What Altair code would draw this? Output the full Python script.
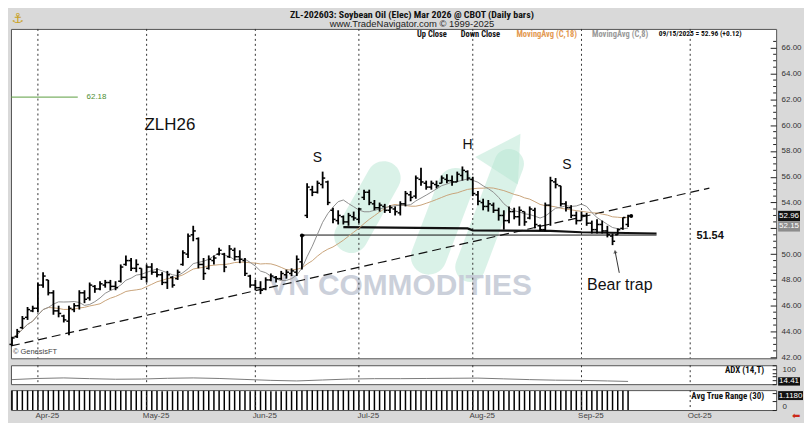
import altair as alt
import pandas as pd

# ---------------- data ----------------
highs = [43.6, 44.2, 45.2, 45.9, 46.0, 47.8, 48.6, 48.0, 47.2, 46.0,
         45.3, 46.0, 46.2, 47.2, 47.2, 47.8, 47.6, 47.9, 48.0, 48.0,
         47.9, 49.2, 49.9, 49.7, 49.6, 48.9, 49.2, 49.3, 48.9, 48.6,
         48.7, 48.3, 48.8, 50.3, 51.6, 52.2, 51.3, 49.7, 49.9, 49.9,
         50.5, 50.1, 50.7, 50.5, 50.3, 49.7, 48.4, 48.0, 47.9, 48.2,
         48.5, 48.3, 48.7, 48.8, 48.9, 49.9, 51.5, 55.5, 55.3, 55.7,
         56.4, 55.7, 53.6, 53.4, 53.0, 53.2, 53.3, 53.6, 55.0, 55.0,
         54.2, 54.0, 53.9, 53.8, 53.7, 54.1, 54.9, 54.9, 56.1, 56.7,
         55.7, 55.7, 55.7, 56.1, 56.2, 56.1, 56.4, 56.8, 56.5, 56.0,
         54.9, 54.3, 54.2, 54.0, 53.6, 53.4, 53.7, 53.6, 53.7, 53.3,
         53.7, 53.6, 52.3, 54.0, 56.0, 55.9, 55.3, 54.1, 53.8, 53.3,
         53.3, 53.2, 52.6, 52.7, 52.6, 52.2, 51.6, 52.0, 52.85, 53.05]
lows = [42.9, 43.5, 44.2, 44.9, 45.5, 45.5, 47.4, 46.8, 45.3, 45.1,
        44.7, 43.7, 45.5, 45.7, 46.2, 46.4, 47.0, 47.2, 47.4, 47.2,
        47.2, 47.8, 49.1, 48.7, 48.6, 48.0, 47.8, 48.4, 48.2, 47.6,
        47.3, 47.4, 48.0, 49.1, 49.7, 51.0, 48.9, 48.0, 48.8, 49.2,
        49.9, 48.6, 49.7, 49.5, 49.3, 48.3, 47.4, 47.2, 46.9, 47.2,
        47.9, 47.8, 48.0, 48.1, 48.3, 48.3, 48.8, 52.8, 54.5, 54.7,
        55.1, 53.8, 52.4, 52.3, 52.3, 52.2, 52.6, 52.4, 54.2, 53.8,
        53.4, 53.3, 53.2, 53.2, 53.0, 53.0, 53.7, 54.1, 54.3, 55.3,
        55.0, 55.0, 55.1, 55.5, 55.5, 55.3, 55.6, 55.7, 55.7, 54.5,
        53.8, 53.4, 53.3, 53.2, 52.6, 51.9, 52.4, 52.7, 52.2, 52.2,
        52.7, 52.0, 51.8, 51.8, 52.2, 55.1, 53.7, 53.3, 52.8, 52.3,
        52.6, 52.2, 51.6, 51.6, 51.6, 51.3, 50.7, 51.5, 51.9, 52.1]
opens = [43.0, 43.6, 44.3, 45.1, 45.6, 45.8, 47.6, 48.0, 47.0, 45.6,
         45.2, 44.8, 45.7, 46.0, 47.0, 46.6, 47.5, 47.3, 47.6, 47.8,
         47.5, 47.9, 49.2, 49.5, 48.9, 48.9, 48.2, 49.0, 48.6, 48.4,
         47.8, 48.2, 48.1, 49.2, 50.0, 51.5, 51.2, 49.2, 48.9, 49.5,
         50.0, 50.0, 49.8, 50.3, 49.8, 49.5, 48.3, 47.6, 47.4, 47.3,
         48.0, 48.2, 48.1, 48.4, 48.5, 48.6, 49.4, 53.0, 55.0, 54.8,
         55.4, 55.6, 53.4, 52.6, 52.9, 52.5, 52.9, 52.7, 54.4, 54.8,
         53.9, 53.6, 53.7, 53.4, 53.5, 53.2, 53.9, 54.6, 54.5, 55.8,
         55.5, 55.2, 55.4, 55.5, 55.8, 55.7, 55.6, 56.1, 56.4, 55.8,
         54.6, 54.0, 53.7, 53.8, 53.4, 53.0, 52.6, 53.3, 52.9, 53.3,
         52.8, 53.4, 52.2, 51.9, 53.8, 55.6, 55.3, 53.9, 53.6, 53.0,
         52.6, 53.0, 52.4, 51.9, 52.3, 51.8, 51.4, 51.5, 52.0, 52.3]
closes = [43.5, 44.0, 45.0, 45.7, 45.8, 47.6, 48.3, 47.0, 45.6, 45.4,
          44.9, 45.8, 46.0, 47.0, 46.5, 47.6, 47.3, 47.7, 47.8, 47.5,
          47.4, 49.0, 49.5, 48.9, 49.2, 48.2, 49.0, 48.6, 48.4, 47.8,
          48.4, 47.6, 48.6, 50.1, 51.4, 51.8, 49.2, 48.5, 49.6, 49.7,
          50.3, 49.0, 50.4, 49.8, 49.6, 48.5, 47.6, 47.4, 47.2, 48.0,
          48.3, 48.1, 48.5, 48.6, 48.7, 49.6, 51.45, 55.2, 54.8, 55.5,
          55.9, 54.0, 52.7, 53.0, 52.5, 53.0, 52.8, 53.5, 54.8, 54.0,
          53.6, 53.8, 53.4, 53.6, 53.3, 53.9, 54.7, 54.4, 55.9, 55.6,
          55.2, 55.5, 55.3, 55.9, 55.7, 55.6, 56.2, 56.5, 55.9, 54.7,
          54.1, 53.7, 53.9, 53.4, 53.0, 52.6, 53.3, 52.9, 53.4, 52.5,
          53.5, 52.3, 51.9, 53.8, 55.7, 55.4, 53.9, 53.6, 53.0, 52.6,
          53.0, 52.4, 51.9, 52.3, 51.8, 51.5, 51.0, 51.9, 52.84, 52.96]

atr_values = [1.12, 1.12, 1.13, 1.13, 1.13, 1.14, 1.14, 1.14, 1.15, 1.15,
              1.15, 1.15, 1.15, 1.14, 1.14, 1.14, 1.13, 1.13, 1.13, 1.12,
              1.12, 1.12, 1.12, 1.12, 1.11, 1.11, 1.11, 1.11, 1.11, 1.10,
              1.10, 1.10, 1.10, 1.11, 1.11, 1.12, 1.12, 1.12, 1.12, 1.12,
              1.12, 1.12, 1.11, 1.11, 1.11, 1.11, 1.10, 1.10, 1.10, 1.10,
              1.10, 1.10, 1.10, 1.10, 1.10, 1.11, 1.12, 1.14, 1.14, 1.14,
              1.15, 1.15, 1.15, 1.15, 1.15, 1.14, 1.14, 1.14, 1.14, 1.14,
              1.13, 1.13, 1.13, 1.13, 1.13, 1.13, 1.13, 1.13, 1.14, 1.14,
              1.13, 1.13, 1.13, 1.13, 1.12, 1.12, 1.12, 1.12, 1.12, 1.12,
              1.12, 1.12, 1.12, 1.11, 1.11, 1.11, 1.11, 1.11, 1.11, 1.11,
              1.11, 1.11, 1.11, 1.11, 1.12, 1.12, 1.12, 1.12, 1.12, 1.12,
              1.12, 1.12, 1.12, 1.12, 1.12, 1.12, 1.12, 1.12, 1.12, 1.118]

adx_idx = [0, 5, 10, 15, 20, 25, 30, 35, 40, 45, 50, 55, 60, 65, 70, 75, 80, 85, 90, 95, 100, 105, 110, 115, 119]
adx_val = [24, 30, 33, 29, 26, 27, 31, 33, 30, 25, 20, 17, 22, 27, 29, 29, 30, 31, 32, 28, 24, 21, 20, 17, 14.41]

holidays = ["2025-04-18", "2025-05-26", "2025-06-19", "2025-07-04", "2025-09-01"]
ma8_tag = 52.15
neck_level = 51.54
target_level = 62.18

# annotation geometry (bar index, price)
trend_idx = [-0.2, 134.7]
trend_p = [42.88, 55.12]
neck_thin_idx = [56, 124.5]
neck_thin_p = [51.48, 51.48]
neck_thick_idx = [64, 88, 89, 104, 110, 124.5]
neck_thick_p = [52.1, 52.0, 51.85, 51.8, 51.7, 51.6]
pattern_idx = [30.5, 59.0, 88.0, 107.2]
pattern_p = [59.98, 57.43, 58.5, 56.89]
pattern_txt = ["ZLH26", "S", "H", "S"]
pattern_fs = [17, 14, 14, 14]

# ---------------- preparation ----------------
FONT = "Liberation Sans, Arial, sans-serif"
NARROW = "Liberation Sans Narrow, Roboto Condensed, DejaVu Sans Condensed, Roboto, sans-serif"

sessions = [d for d in pd.bdate_range("2025-03-25", "2025-10-31")
            if d.strftime("%Y-%m-%d") not in holidays]
n = len(closes)
bars = pd.DataFrame({"idx": list(range(n)), "o": opens, "h": highs, "l": lows, "c": closes})

month_idx, month_lab = [], []
prev = None
for i, d in enumerate(sessions):
    if d.month != prev:
        if prev is not None:
            month_idx.append(i)
            month_lab.append(d.strftime("%b-%y"))
        prev = d.month
months = pd.DataFrame({"idx": month_idx, "label": month_lab})

W = 769
H_MAIN, H_ADX, H_ATR = 331, 19, 20
xs = alt.Scale(domain=[-0.2, 147.6], nice=False, zero=False)
ys = alt.Scale(domain=[41.923, 67.466], nice=False, zero=False)

y_axis = alt.Axis(orient="right", values=list(range(42, 67, 2)),
                  labelExpr="datum.value == 52 ? '' : format(datum.value, '.2f')", offset=-6,
                  tickSize=6, tickColor="#222", domain=False, grid=False, labelPadding=5,
                  labelFont=FONT, labelFontSize=8, labelColor="#333", title=None)


def X(field="idx"):
    return alt.X(f"{field}:Q", scale=xs, axis=None)


def Y(field):
    return alt.Y(f"{field}:Q", scale=ys, axis=y_axis)


dummy = pd.DataFrame({"a": [0]})

# watermark logo
logo = pd.DataFrame({"x1": [65.5, 80.5, 88.5], "y1": [51.4, 49.8, 49.0],
                     "x2": [71.8, 85.7, 96.0], "y2": [55.9, 55.3, 57.0], "w": [34, 36, 30]})
logo_layer = alt.Chart(logo).mark_rule(strokeCap="round", color="#b5e6d2", opacity=0.5).encode(
    x=X("x1"), x2="x2:Q", y=Y("y1"), y2="y2:Q", strokeWidth=alt.StrokeWidth("w:Q", scale=None))
logo_head = alt.Chart(pd.DataFrame({"x": [95.9], "y": [57.9]})).mark_point(
    shape="triangle-up", filled=True, size=2600, angle=33, color="#b5e6d2", opacity=0.5, strokeWidth=0
).encode(x=X("x"), y=Y("y"))
wm_text = alt.Chart(pd.DataFrame({"x": [74.95], "y": [47.56]})).mark_text(
    text="VN COMMODITIES", font=FONT, fontWeight="bold", fontSize=30, color="#c6cbd7", opacity=0.9
).encode(x=X("x"), y=Y("y"))

month_rules = alt.Chart(months).mark_rule(color="#333", strokeDash=[2, 3], strokeWidth=1).encode(x=X())

trend = alt.Chart(pd.DataFrame({"idx": trend_idx, "p": trend_p})).mark_line(
    color="#111", strokeDash=[9, 5], strokeWidth=1.2).encode(x=X(), y=Y("p"))
neck_thin = alt.Chart(pd.DataFrame({"idx": neck_thin_idx, "p": neck_thin_p})).mark_line(
    color="#111", strokeWidth=1).encode(x=X(), y=Y("p"))
neck_thick = alt.Chart(pd.DataFrame({"idx": neck_thick_idx, "p": neck_thick_p})).mark_line(
    color="#111", strokeWidth=2.2).encode(x=X(), y=Y("p"))

ma_base = alt.Chart(bars).transform_window(
    ma18="mean(c)", frame=[-17, 0], sort=[alt.SortField("idx")]
).transform_window(
    ma8="mean(c)", frame=[-7, 0], sort=[alt.SortField("idx")])
ma18 = ma_base.mark_line(color="#c9a37a", strokeWidth=1).encode(x=X(), y=Y("ma18"))
ma8 = ma_base.mark_line(color="#8e8e8e", strokeWidth=1).encode(x=X(), y=Y("ma8"))

hl = alt.Chart(bars).mark_rule(color="black", strokeWidth=1.8).encode(x=X(), y=Y("l"), y2="h:Q")
otick = alt.Chart(bars).transform_calculate(xa="datum.idx - 0.5").mark_rule(
    color="black", strokeWidth=1.5).encode(x=X("xa"), x2="idx:Q", y=Y("o"))
ctick = alt.Chart(bars).transform_calculate(xb="datum.idx + 0.5").mark_rule(
    color="black", strokeWidth=1.5).encode(x=X("idx"), x2="xb:Q", y=Y("c"))
dots = alt.Chart(pd.DataFrame({"idx": [56, 119.6], "p": [closes[56], closes[-1]]})).mark_circle(
    size=16, color="black", opacity=1).encode(x=X(), y=Y("p"))

patt = alt.Chart(pd.DataFrame({"idx": pattern_idx, "p": pattern_p, "t": pattern_txt, "fs": pattern_fs})
                 ).mark_text(font=FONT, color="#111").encode(
    x=X(), y=Y("p"), text="t:N", size=alt.Size("fs:Q", scale=None))
bear = alt.Chart(pd.DataFrame({"idx": [117.4], "p": [47.6]})).mark_text(
    text="Bear trap", font=FONT, fontSize=16, color="#111").encode(x=X(), y=Y("p"))
bear_arrow = alt.Chart(pd.DataFrame({"idx": [117.3, 116.5], "p": [48.55, 50.2]})).mark_line(
    color="#333", strokeWidth=1).encode(x=X(), y=Y("p"))
bear_head = alt.Chart(pd.DataFrame({"idx": [116.5], "p": [50.2]})).mark_point(
    shape="triangle-up", filled=True, size=18, angle=350, color="#333").encode(x=X(), y=Y("p"))
neck_lab = alt.Chart(pd.DataFrame({"idx": [132.2], "p": [neck_level], "t": [f"{neck_level:.2f}"]})).mark_text(
    font=FONT, fontWeight="bold", fontSize=11, align="left", dy=1.5, color="#111").encode(
    x=X(), y=Y("p"), text="t:N")
tgt_line = alt.Chart(pd.DataFrame({"idx": [-0.2, 12.7], "p": [target_level, target_level]})).mark_line(
    color="#5c9e40", strokeWidth=1).encode(x=X(), y=Y("p"))
tgt_lab = alt.Chart(pd.DataFrame({"idx": [14.4], "p": [target_level], "t": [f"{target_level:.2f}"]})).mark_text(
    font=FONT, fontSize=8, align="left", color="#4f8f35").encode(x=X(), y=Y("p"), text="t:N")

genesis = alt.Chart(dummy).mark_text(text="© GenesisFT", font=FONT, fontSize=7.5, color="#444",
                                     align="left").encode(x=alt.value(2), y=alt.value(H_MAIN - 6))

title1 = alt.Chart(dummy).mark_text(
    text="ZL-202603:  Soybean Oil (Elec) Mar 2026 @ CBOT  (Daily bars)", font=NARROW, fontWeight="bold",
    fontSize=10, color="#111").encode(x=alt.value(403), y=alt.value(-14))
title2 = alt.Chart(dummy).mark_text(
    text="www.TradeNavigator.com © 1999-2025", font=FONT, fontSize=9.5, color="#222"
).encode(x=alt.value(403), y=alt.value(-4.5))
logo_icon = alt.Chart(dummy).mark_text(text="⚓", font="DejaVu Sans", fontSize=14, color="#c9a227").encode(
    x=alt.value(7), y=alt.value(-10))

last_date = sessions[n - 1].strftime("%m/%d/%Y")
legend_items = [("Up Close", 408, "#111", 8.5), ("Down Close", 452, "#111", 8.5),
                ("MovingAvg (C,18)", 508, "#e39a52", 8.5), ("MovingAvg (C,8)", 584, "#9a9a9a", 8.5),
                (f"{last_date} = {closes[-1]:.2f} ({closes[-1] - closes[-2]:+.2f})", 651, "#111", 7.5)]
legend_layers = [alt.Chart(dummy).mark_text(text=t, font=NARROW, fontWeight="bold", fontSize=fs,
                                            align="left", color=c).encode(x=alt.value(px), y=alt.value(5.5))
                 for t, px, c, fs in legend_items]

minor = pd.DataFrame({"v": [v / 2 for v in range(84, 134) if v % 4 != 0]})
minor_ticks = alt.Chart(minor).mark_rule(color="#222", strokeWidth=1).encode(
    x=alt.value(W - 3), x2=alt.value(W), y=Y("v"))

tags = pd.DataFrame({"p": [closes[-1], ma8_tag], "fill": ["#111", "#8c8c8c"]})
tags["lab"] = [f"{v:.2f}" for v in tags["p"]]
tag_rect = alt.Chart(tags).transform_calculate(top="datum.p + 0.4", bot="datum.p - 0.4").mark_rect().encode(
    x=alt.value(W + 2), x2=alt.value(W + 24), y=Y("top"), y2="bot:Q", color=alt.Color("fill:N", scale=None))
tag_text = alt.Chart(tags).mark_text(font=FONT, fontSize=8, color="white").encode(
    x=alt.value(W + 13), y=Y("p"), text="lab:N")

main = alt.layer(
    logo_layer, logo_head, wm_text, month_rules, trend, neck_thin, neck_thick, ma18, ma8,
    hl, otick, ctick, dots, patt, bear, bear_arrow, bear_head, neck_lab, tgt_line, tgt_lab,
    genesis, title1, title2, logo_icon, *legend_layers, minor_ticks, tag_rect, tag_text
).properties(width=W, height=H_MAIN)

# ---------------- ADX panel ----------------
adx_scale = alt.Scale(domain=[0, 100], nice=False, zero=False)
adx_axis = alt.Axis(orient="right", values=[0, 20, 40, 60, 80, 100],
                    labelExpr="datum.value == 100 ? '100' : ''", offset=-4, tickSize=4,
                    tickColor="#222", domain=False, grid=False, labelPadding=6, labelBaseline="top",
                    labelFont=FONT, labelFontSize=8, labelColor="#333", title=None)
adx_df = pd.DataFrame({"idx": adx_idx, "v": adx_val})
adx_line = alt.Chart(adx_df).mark_line(color="#7a7a7a", strokeWidth=1).encode(
    x=X(), y=alt.Y("v:Q", scale=adx_scale, axis=adx_axis))
adx_rules = alt.Chart(months).mark_rule(color="#333", strokeDash=[2, 3], strokeWidth=1).encode(x=X())
adx_lab = alt.Chart(dummy).mark_text(text="ADX (14,T)", font=NARROW, fontWeight="bold", fontSize=9,
                                     align="right", color="#111").encode(x=alt.value(757), y=alt.value(5))
adx_tag_df = pd.DataFrame({"v": [adx_val[-1]], "lab": [f"{adx_val[-1]:.2f}"]})
adx_tag_rect = alt.Chart(adx_tag_df).transform_calculate(top="datum.v + 22", bot="datum.v - 22").mark_rect(
    color="#111").encode(x=alt.value(W + 2), x2=alt.value(W + 24),
                         y=alt.Y("top:Q", scale=adx_scale, axis=adx_axis), y2="bot:Q")
adx_tag_text = alt.Chart(adx_tag_df).mark_text(font=FONT, fontSize=8, color="white").encode(
    x=alt.value(W + 13), y=alt.Y("v:Q", scale=adx_scale, axis=adx_axis), text="lab:N")
adx = alt.layer(adx_rules, adx_line, adx_lab, adx_tag_rect, adx_tag_text).properties(width=W, height=H_ADX)

# ---------------- ATR panel ----------------
label_expr = " : ".join(f"datum.value == {i} ? '{l}'" for i, l in zip(month_idx, month_lab)) + " : ''"
x_axis = alt.Axis(values=month_idx, labelExpr=label_expr, ticks=False, domain=False, grid=False,
                  labelPadding=2, labelOffset=9, labelFont=FONT, labelFontSize=8, labelColor="#444",
                  labelFlush=False, labelOverlap=False, title=None)
xs_atr = alt.X("idx:Q", scale=xs, axis=x_axis)
atr_scale = alt.Scale(domain=[0, 1.16], nice=False, zero=False)
atr_axis = alt.Axis(orient="right", values=[0, 0.5, 1.0], labelExpr="datum.value == 0 ? '0' : ''",
                    offset=-4, tickSize=4, tickColor="#222", domain=False, grid=False, labelPadding=6,
                    labelBaseline="bottom", labelFont=FONT, labelFontSize=8, labelColor="#333", title=None)
atr_df = pd.DataFrame({"idx": list(range(n)), "atr": atr_values})
atr_bars = alt.Chart(atr_df).mark_rule(color="black", strokeWidth=1.5).encode(
    x=xs_atr, y=alt.Y("atr:Q", scale=atr_scale, axis=atr_axis), y2=alt.datum(0))
atr_rules = alt.Chart(months).mark_rule(color="#333", strokeDash=[2, 3], strokeWidth=1).encode(x=xs_atr)
atr_lab = alt.Chart(dummy).mark_text(text="Avg True Range (30)", font=NARROW, fontWeight="bold", fontSize=9,
                                     align="right", color="#111").encode(x=alt.value(757), y=alt.value(6))
atr_tag_rect = alt.Chart(dummy).mark_rect(color="#111").encode(
    x=alt.value(W + 2), x2=alt.value(W + 27), y=alt.value(1), y2=alt.value(10))
atr_tag_text = alt.Chart(dummy).mark_text(text=f"{atr_values[-1]:.4f}", font=FONT, fontSize=8,
                                          color="white").encode(x=alt.value(W + 14.5), y=alt.value(5.5))
red_arrow = alt.Chart(dummy).mark_text(text="⬅", fontSize=10, color="#cc2a1a", font="DejaVu Sans").encode(
    x=alt.value(W + 20), y=alt.value(H_ATR + 6))
atr = alt.layer(atr_bars, atr_rules, atr_lab, atr_tag_rect, atr_tag_text, red_arrow).properties(
    width=W, height=H_ATR)

chart = alt.vconcat(main, adx, atr, spacing=2).properties(
    background="#d9d9d9", padding={"left": 0, "top": 0, "right": 0, "bottom": 0}
).configure_view(stroke="#555", strokeWidth=1, fill="white")

chart.save("out.html", embed_options={"renderer": "svg", "actions": False})
